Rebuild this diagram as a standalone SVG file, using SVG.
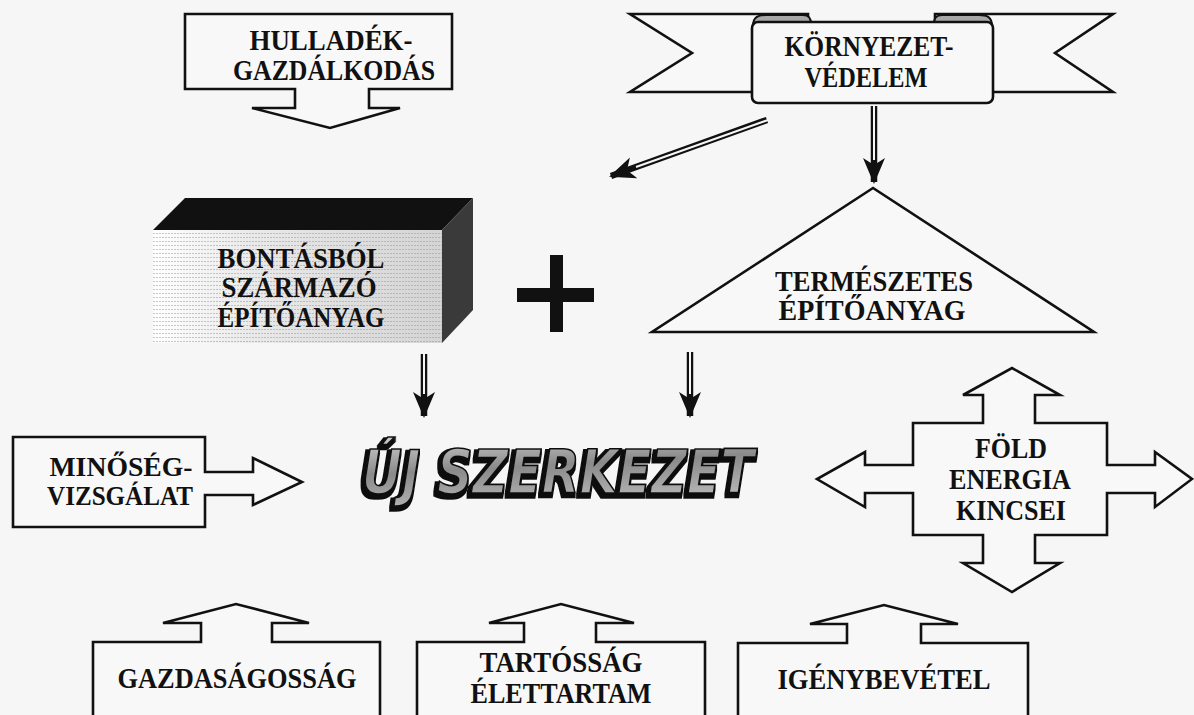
<svg xmlns="http://www.w3.org/2000/svg" width="1194" height="715" viewBox="0 0 1194 715">
<style>
.lbl{font-family:"Liberation Serif","Times New Roman",serif;font-weight:bold;font-size:29px;fill:#111;text-anchor:middle}
.small{font-size:27px}
.shape{fill:#f8f8f8;stroke:#111;stroke-width:2.6;stroke-linejoin:miter}
.dbl{stroke:#111;stroke-width:6.5;fill:none}
.gap{stroke:#f6f6f6;stroke-width:2;fill:none}
</style>
<defs>
<marker id="head" viewBox="0 0 26 24" refX="24" refY="12" markerWidth="26" markerHeight="24" markerUnits="userSpaceOnUse" orient="auto">
<path d="M0,1 L26,12 L0,23 L7,12 Z" fill="#111"/>
</marker>
<linearGradient id="front" x1="0" y1="0" x2="1" y2="0">
<stop offset="0" stop-color="#ffffff"/>
<stop offset="0.35" stop-color="#e9e9e9"/>
<stop offset="1" stop-color="#d4d4d4"/>
</linearGradient>
<pattern id="dots" width="3" height="4" patternUnits="userSpaceOnUse">
<rect x="0" y="1" width="2" height="1" fill="#9a9a9a" opacity="0.55"/>
</pattern>
<linearGradient id="metal" x1="0" y1="0" x2="0.3" y2="1">
<stop offset="0" stop-color="#d0d0d0"/>
<stop offset="0.5" stop-color="#8a8a8a"/>
<stop offset="1" stop-color="#b5b5b5"/>
</linearGradient>
<filter id="extrude" x="-10%" y="-30%" width="120%" height="160%">
<feMorphology in="SourceAlpha" operator="dilate" radius="1.6" result="fat"/>
<feOffset in="fat" dx="-2.5" dy="3" result="off"/>
<feFlood flood-color="#111"/>
<feComposite in2="off" operator="in" result="shadow"/>
<feMerge><feMergeNode in="shadow"/><feMergeNode in="SourceGraphic"/></feMerge>
</filter>
</defs>
<rect width="1194" height="715" fill="#f6f6f6"/>

<g id="hulladek">
<path class="shape" d="M185,14 H452 V89 H369 V108 H400 L330,128 L252,108 H295 V89 H185 Z"/>
<text class="lbl" x="331" y="50" textLength="163" lengthAdjust="spacingAndGlyphs">HULLADÉK-</text>
<text class="lbl" x="334" y="80" textLength="202" lengthAdjust="spacingAndGlyphs">GAZDÁLKODÁS</text>
</g>

<g id="kornyezet">
<path class="shape" d="M630,14 H808 V92 H630 L692,53 Z"/>
<path class="shape" d="M1113,14 H935 V92 H1113 L1055,53 Z"/>
<path d="M753,26 C753,17 758,15 766,15 L803,15 C809,15 811,18 811,24 Z" fill="#a8a8a8" stroke="#111" stroke-width="2"/>
<path d="M992,26 C992,17 987,15 979,15 L942,15 C936,15 934,18 934,24 Z" fill="#a8a8a8" stroke="#111" stroke-width="2"/>
<rect class="shape" x="752" y="22" width="241" height="81" rx="6"/>
<text class="lbl" x="869" y="56" textLength="169" lengthAdjust="spacingAndGlyphs">KÖRNYEZET-</text>
<text class="lbl" x="866" y="87" textLength="123" lengthAdjust="spacingAndGlyphs">VÉDELEM</text>
</g>

<g id="bontasbol">
<polygon points="153,230 185,198 473,198 442,230" fill="#111"/>
<rect x="153" y="230" width="289" height="113" fill="url(#front)"/>
<rect x="153" y="230" width="289" height="113" fill="url(#dots)"/>
<polygon points="442,230 473,198 473,310 442,343" fill="#3a3a3a"/>
<text class="lbl" x="301" y="268" textLength="167" lengthAdjust="spacingAndGlyphs">BONTÁSBÓL</text>
<text class="lbl" x="299" y="297" textLength="155" lengthAdjust="spacingAndGlyphs">SZÁRMAZÓ</text>
<text class="lbl" x="301" y="327" textLength="167" lengthAdjust="spacingAndGlyphs">ÉPÍTŐANYAG</text>
</g>

<g id="plus">
<rect x="550" y="255" width="13" height="77" fill="#111"/>
<rect x="517" y="288" width="77" height="14" fill="#111"/>
</g>

<g id="termeszetes">
<path class="shape" d="M873,188 L652,332 L1094,332 Z"/>
<text class="lbl" x="874" y="291" textLength="198" lengthAdjust="spacingAndGlyphs">TERMÉSZETES</text>
<text class="lbl" x="872" y="320" textLength="187" lengthAdjust="spacingAndGlyphs">ÉPÍTŐANYAG</text>
</g>

<g id="uj-szerkezet">
<text x="558" y="493" textLength="392" lengthAdjust="spacingAndGlyphs" font-family="'Liberation Sans Narrow','DejaVu Sans Condensed','Liberation Sans',sans-serif" font-weight="bold" font-style="italic" font-size="60" text-anchor="middle" fill="url(#metal)" stroke="#111" stroke-width="1.6" filter="url(#extrude)">ÚJ SZERKEZET</text>
</g>

<g id="minoseg">
<path class="shape" d="M13,437 H205 V472 H253 V458 L302,482 L253,505 V495 H205 V527 H13 Z"/>
<text class="lbl small" x="121" y="476" textLength="143" lengthAdjust="spacingAndGlyphs">MINŐSÉG-</text>
<text class="lbl small" x="120" y="505" textLength="146" lengthAdjust="spacingAndGlyphs">VIZSGÁLAT</text>
</g>

<g id="fold">
<path class="shape" d="M913,423 H983 V395 H963 L1012,368 L1060,395 H1035 V423 H1107 V465 H1155 V452 L1192,479 L1155,507 V493 H1107 V535 H1035 V563 H1060 L1012,592 L963,563 H983 V535 H913 V493 H865 V507 L817,479 L865,452 V465 H913 Z"/>
<text class="lbl" x="1011" y="458" textLength="72" lengthAdjust="spacingAndGlyphs">FÖLD</text>
<text class="lbl" x="1010" y="489" textLength="122" lengthAdjust="spacingAndGlyphs">ENERGIA</text>
<text class="lbl" x="1011" y="520" textLength="110" lengthAdjust="spacingAndGlyphs">KINCSEI</text>
</g>

<g id="gazdasagossag">
<path class="shape" d="M93,730 V642 H201 V623 H163 L236,604 L309,623 H272 V642 H380 V730 Z"/>
<text class="lbl" x="237" y="688" textLength="239" lengthAdjust="spacingAndGlyphs">GAZDASÁGOSSÁG</text>
</g>

<g id="tartossag">
<path class="shape" d="M417,730 V642 H524 V623 H489 L561,604 L634,623 H596 V642 H705 V730 Z"/>
<text class="lbl" x="561" y="672" textLength="163" lengthAdjust="spacingAndGlyphs">TARTÓSSÁG</text>
<text class="lbl" x="561" y="703" textLength="181" lengthAdjust="spacingAndGlyphs">ÉLETTARTAM</text>
</g>

<g id="igenybevetel">
<path class="shape" d="M738,730 V643 H847 V624 H810 L884,605 L958,624 H921 V643 H1028 V730 Z"/>
<text class="lbl" x="884" y="689" textLength="213" lengthAdjust="spacingAndGlyphs">IGÉNYBEVÉTEL</text>
</g>

<g id="connectors">
<line class="dbl" x1="767" y1="120" x2="611" y2="176" marker-end="url(#head)"/>
<line class="gap" x1="768" y1="120" x2="636" y2="167"/>
<line class="dbl" x1="874" y1="106" x2="874" y2="182" marker-end="url(#head)"/>
<line class="gap" x1="874" y1="105" x2="874" y2="160"/>
<line class="dbl" x1="424" y1="354" x2="424" y2="416" marker-end="url(#head)"/>
<line class="gap" x1="424" y1="353" x2="424" y2="394"/>
<line class="dbl" x1="690" y1="352" x2="690" y2="416" marker-end="url(#head)"/>
<line class="gap" x1="690" y1="351" x2="690" y2="394"/>
</g>
</svg>
